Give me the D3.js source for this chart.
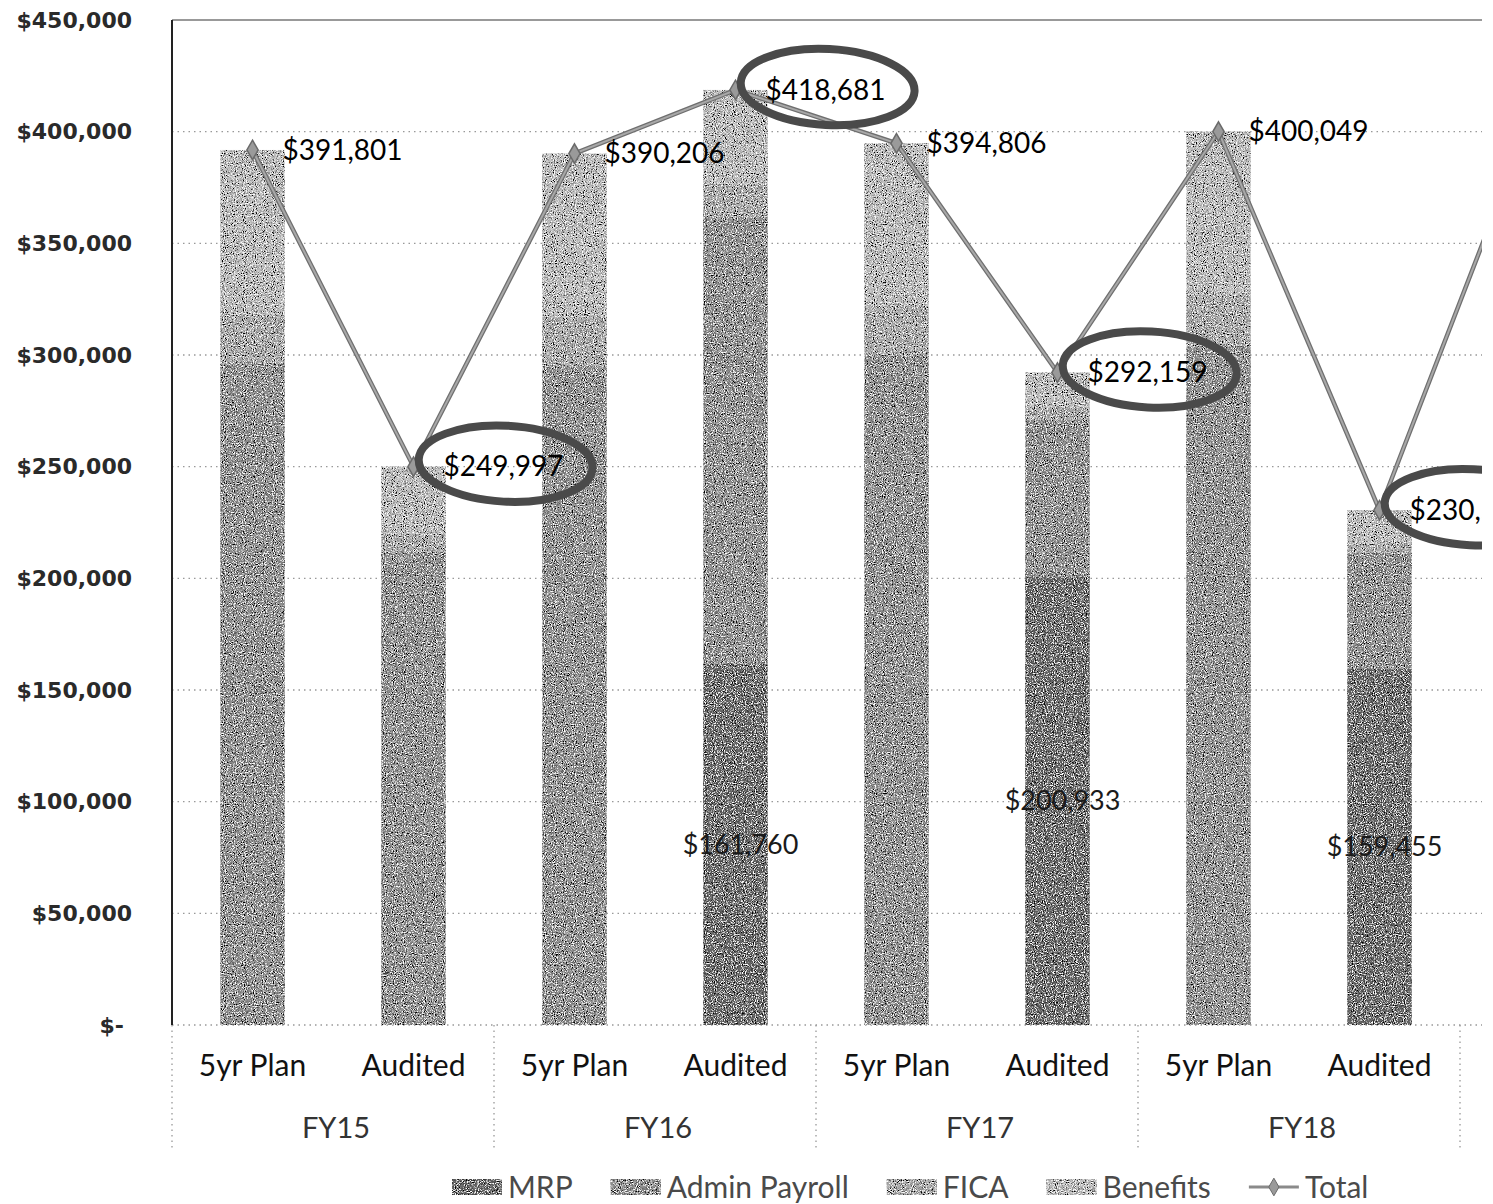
<!DOCTYPE html>
<html>
<head>
<meta charset="utf-8">
<script src="https://cdn.jsdelivr.net/npm/d3@7"></script>
<style>
  body { margin: 0; background: #fff; }
  svg { display: block; }
</style>
</head>
<body>
<svg width="1493" height="1204"></svg>
<script>
// fiscal year / scenario for each column (last column is cut off at the right edge)
var years     = ["FY15", "FY15", "FY16", "FY16", "FY17", "FY17", "FY18", "FY18", "FY19"];
var scenarios = ["5yr Plan", "Audited", "5yr Plan", "Audited", "5yr Plan", "Audited", "5yr Plan", "Audited", "5yr Plan"];

// stacked components (rough)
var mrp      = [0,      0,      0,      161760, 0,      200933, 0,      159455, null];
var admin    = [296000, 212000, 295000, 200000, 300000, 70000,  304000, 52000,  null];
var fica     = [22000,  8000,   22000,  15000,  22000,  6000,   23000,  4000,   null];
var benefits = [73801,  29997,  73206,  41921,  72806,  15226,  73049,  15057,  null];

// total line
var total   = [391801, 249997, 390206, 418681, 394806, 292159, 400049, 230512, 417000];
var circled = [false,  true,   false,  true,   false,  true,   false,  true,   false];

var yTicks = [0, 50000, 100000, 150000, 200000, 250000, 300000, 350000, 400000, 450000];
var seriesNames = ["MRP", "Admin Payroll", "FICA", "Benefits"];
var seriesColors = ["#676767", "#8f8f8f", "#aaaaaa", "#bdbdbd"];

var svg = d3.select("svg"),
    plotLeft = 172,
    plotTop = 20,
    plotBottom = 1025,
    step = 161;

var idx = d3.range(total.length);

var x = d3.scaleBand()
    .domain(idx)
    .range([plotLeft, plotLeft + step * idx.length])
    .paddingInner(0.6)
    .paddingOuter(0.3);

var y = d3.scaleLinear()
    .domain([0, 450000])
    .range([plotBottom, plotTop]);

var money = d3.format(",");

var defs = svg.append("defs");
defs.append("clipPath").attr("id", "cut")
  .append("rect").attr("x", 0).attr("y", 0).attr("width", 1482).attr("height", 1204);

// scan-like grain on the bars
var grain = defs.append("filter").attr("id", "grain")
    .attr("x", "-5%").attr("y", "-5%").attr("width", "110%").attr("height", "110%");
grain.append("feTurbulence").attr("type", "fractalNoise").attr("baseFrequency", 0.9)
    .attr("numOctaves", 2).attr("seed", 4).attr("result", "noise");
grain.append("feColorMatrix").attr("in", "noise").attr("type", "matrix")
    .attr("values", "0 0 0 0 0  0 0 0 0 0  0 0 0 0 0  5 0 0 0 -2.6").attr("result", "darkA");
grain.append("feComposite").attr("in", "darkA").attr("in2", "SourceGraphic").attr("operator", "in").attr("result", "dark");
grain.append("feColorMatrix").attr("in", "noise").attr("type", "matrix")
    .attr("values", "0 0 0 0 1  0 0 0 0 1  0 0 0 0 1  -5 0 0 0 2.4").attr("result", "lightA");
grain.append("feComposite").attr("in", "lightA").attr("in2", "SourceGraphic").attr("operator", "in").attr("result", "light");
var merge = grain.append("feMerge");
merge.append("feMergeNode").attr("in", "SourceGraphic");
merge.append("feMergeNode").attr("in", "dark");
merge.append("feMergeNode").attr("in", "light");

var g = svg.append("g").attr("clip-path", "url(#cut)");

// gridlines
g.selectAll(".grid")
    .data(yTicks)
    .enter().append("line")
    .attr("x1", plotLeft).attr("x2", 1493)
    .attr("y1", function(d) { return y(d); })
    .attr("y2", function(d) { return y(d); })
    .attr("stroke", d => d == 450000 ? "#777" : "#999")
    .attr("stroke-width", d => d == 450000 ? 1.5 : 1.3)
    .attr("stroke-dasharray", d => d == 450000 ? null : "1.5,4");

// left axis line
g.append("line")
    .attr("x1", plotLeft).attr("x2", plotLeft)
    .attr("y1", plotTop).attr("y2", plotBottom)
    .attr("stroke", "#222").attr("stroke-width", 2);

// y tick labels
var yAxis = d3.axisLeft(y)
    .tickValues(yTicks)
    .tickSize(0)
    .tickPadding(40)
    .tickFormat(function(d) { return d === 0 ? "$-" : "$" + money(d); });

svg.append("g")
    .attr("transform", "translate(" + plotLeft + ",0)")
    .call(yAxis)
    .call(function(a) { a.select(".domain").remove(); })
    .selectAll("text")
    .attr("dx", function(d) { return d === 0 ? -8 : 0; })
    .attr("font-family", "DejaVu Sans")
    .attr("font-weight", "bold")
    .attr("font-size", 22)
    .attr("fill", "#2a2a2a");

// stacked bars
var rows = idx.filter(function(i) { return mrp[i] !== null; }).map(function(i) {
    return { i: i, "MRP": mrp[i], "Admin Payroll": admin[i], "FICA": fica[i], "Benefits": benefits[i] };
});

var stack = d3.stack().keys(seriesNames)(rows);

g.append("g").attr("filter", "url(#grain)")
  .selectAll(".layer")
    .data(stack)
    .enter().append("g")
    .attr("fill", function(d, k) { return seriesColors[k]; })
  .selectAll("rect")
    .data(function(d) { return d; })
    .enter().append("rect")
    .attr("x", function(d) { return x(d.data.i); })
    .attr("width", x.bandwidth())
    .attr("y", function(d) { return y(d[1]); })
    .attr("height", function(d) { return y(d[0]) - y(d[1]); });

// MRP labels in the middle of the dark segment
g.selectAll(".mrpLabel")
    .data(rows.filter(function(d) { return d.MRP > 0; }))
    .enter().append("text")
    .attr("x", function(d) { return x(d.i) + x.bandwidth() / 2 + 5; })
    .attr("y", function(d) { return y(d.MRP / 2); })
    .attr("dy", "0.35em")
    .attr("text-anchor", "middle")
    .attr("font-family", "Lato")
    .attr("font-size", 27)
    .attr("fill", "#1a1a1a")
    .text(function(d) { return "$" + money(d.MRP); });

// total line
var cx = function(i) { return x(i) + x.bandwidth() / 2; };

var line = d3.line()
    .x(function(i) { return cx(i); })
    .y(function(i) { return y(total[i]); });

g.append("path")
    .datum(idx)
    .attr("d", line)
    .attr("fill", "none")
    .attr("stroke", "#6f6f6f")
    .attr("stroke-width", 4.5);

g.append("path")
    .datum(idx)
    .attr("d", line)
    .attr("fill", "none")
    .attr("stroke", "#a8a8a8")
    .attr("stroke-width", 2);

g.selectAll(".marker")
    .data(idx)
    .enter().append("path")
    .attr("d", d3.symbol().type(d3.symbolDiamond).size(110))
    .attr("transform", function(i) { return "translate(" + cx(i) + "," + y(total[i]) + ")"; })
    .attr("fill", "#9a9a9a")
    .attr("stroke", "#6a6a6a")
    .attr("stroke-width", 1.5);

// total labels
g.selectAll(".totalLabel")
    .data(idx)
    .enter().append("text")
    .attr("x", function(i) { return cx(i) + 30; })
    .attr("y", function(i) { return y(total[i]); })
    .attr("dy", "0.35em")
    .attr("font-family", "Lato")
    .attr("font-size", 28)
    .attr("fill", "#000")
    .text(function(i) { return "$" + money(total[i]); });

// hand-drawn circles round the audited totals
g.selectAll(".ring")
    .data(idx.filter(function(i) { return circled[i]; }))
    .enter().append("ellipse")
    .attr("cx", function(i) { return cx(i) + 92; })
    .attr("cy", function(i) { return y(total[i]) - 3; })
    .attr("rx", 87)
    .attr("ry", 38)
    .attr("fill", "none")
    .attr("stroke", "#4a4a4a")
    .attr("stroke-width", 8)
    .attr("transform", function(i) { return "rotate(3," + (cx(i) + 92) + "," + y(total[i]) + ")"; });

// category axis: scenario labels
var xAxis = d3.axisBottom(x)
    .tickSize(0)
    .tickPadding(30)
    .tickFormat(function(i) { return scenarios[i]; });

g.append("g")
    .attr("transform", "translate(0," + plotBottom + ")")
    .call(xAxis)
    .call(function(a) { a.select(".domain").remove(); })
    .selectAll("text")
    .attr("font-family", "Lato")
    .attr("font-size", 30)
    .attr("fill", "#111");

// year group labels + separators
var groups = [];
years.forEach(function(yr, i) {
    if (!groups.length || groups[groups.length - 1].name !== yr) groups.push({ name: yr, first: i, last: i });
    else groups[groups.length - 1].last = i;
});

g.selectAll(".sep")
    .data(groups)
    .enter().append("line")
    .attr("x1", function(d) { return x(d.first) - x.step() * x.paddingInner() / 2; })
    .attr("x2", function(d) { return x(d.first) - x.step() * x.paddingInner() / 2; })
    .attr("y1", plotBottom)
    .attr("y2", plotBottom + 124)
    .attr("stroke", "#999")
    .attr("stroke-width", 1.3)
    .attr("stroke-dasharray", "1.5,4");

g.selectAll(".year")
    .data(groups)
    .enter().append("text")
    .attr("x", function(d) { return (cx(d.first) + cx(d.last)) / 2 + 3; })
    .attr("y", plotBottom + 113)
    .attr("text-anchor", "middle")
    .attr("font-family", "Lato")
    .attr("font-size", 29)
    .attr("fill", "#333")
    .text(function(d) { return d.name; });

// legend
var legend = svg.append("g").attr("transform", "translate(452,1187)");
var lx = 0;
seriesNames.concat(["Total"]).forEach(function(name, k) {
    var item = legend.append("g").attr("transform", "translate(" + lx + ",0)");
    if (name === "Total") {
        item.append("line").attr("x1", 0).attr("x2", 50).attr("y1", 0).attr("y2", 0)
            .attr("stroke", "#8a8a8a").attr("stroke-width", 3);
        item.append("path").attr("d", d3.symbol().type(d3.symbolDiamond).size(90))
            .attr("transform", "translate(25,0)")
            .attr("fill", "#9a9a9a").attr("stroke", "#6a6a6a");
    } else {
        item.append("rect").attr("x", 0).attr("y", -8).attr("width", 50).attr("height", 16)
            .attr("fill", seriesColors[k]).attr("filter", "url(#grain)");
    }
    var t = item.append("text")
        .attr("x", 56)
        .attr("dy", "0.35em")
        .attr("font-family", "Lato")
        .attr("font-size", 30)
        .attr("fill", "#4a4a4a")
        .text(name);
    lx += 56 + t.node().getComputedTextLength() + 38;
});
</script>
</body>
</html>
